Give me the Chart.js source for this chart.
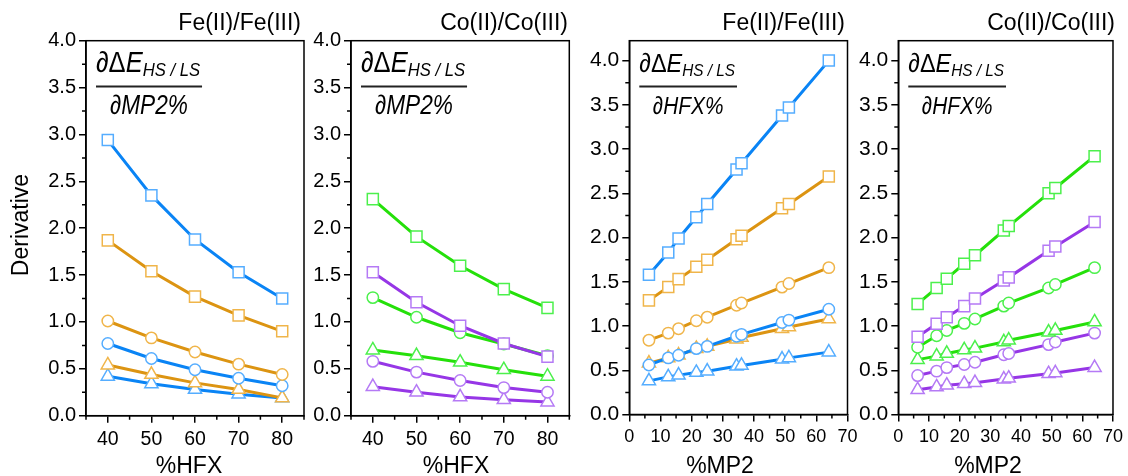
<!DOCTYPE html>
<html>
<head>
<meta charset="utf-8">
<script src="https://cdn.jsdelivr.net/npm/chart.js@4.4.0/dist/chart.umd.min.js"></script>
<style>
  html, body { margin: 0; padding: 0; background: #fff; }
  #wrap { position: relative; width: 1128px; height: 476px; overflow: hidden; }
  #wrap canvas { position: absolute; left: 0; top: 0; }
</style>
</head>
<body>
<div id="wrap">
  <canvas id="chartFeMp2" width="1128" height="476"></canvas>
  <canvas id="chartCoMp2" width="1128" height="476"></canvas>
  <canvas id="chartFeHfx" width="1128" height="476"></canvas>
  <canvas id="chartCoHfx" width="1128" height="476"></canvas>
</div>
<script>
// x values
const hfx = [40, 50, 60, 70, 80];
const mp2 = [6.3, 12.5, 15.8, 21.5, 25, 34.4, 36, 49, 51.2, 64];

// tick labels
const hfxTicks = [40, 50, 60, 70, 80];
const hfxMinor = [35, 45, 55, 65, 75, 85];
const mp2Ticks = [0, 10, 20, 30, 40, 50, 60, 70];
const mp2Minor = [5, 15, 25, 35, 45, 55, 65];
const yTicks = [0, 0.5, 1, 1.5, 2, 2.5, 3, 3.5, 4];
const yMinor = [0.25, 0.75, 1.25, 1.75, 2.25, 2.75, 3.25, 3.75];

// panel 1: Fe, d/dMP2% vs %HFX
const feSqBlue1 = [2.94, 2.35, 1.88, 1.53, 1.25];
const feSqOrange1 = [1.87, 1.54, 1.27, 1.07, 0.90];
const feCiOrange1 = [1.01, 0.83, 0.68, 0.55, 0.44];
const feCiBlue1 = [0.77, 0.61, 0.49, 0.40, 0.32];
const feTrOrange1 = [0.54, 0.44, 0.35, 0.28, 0.19];
const feTrBlue1 = [0.42, 0.34, 0.28, 0.23, 0.19];

// panel 2: Co, d/dMP2% vs %HFX
const coSqGreen1 = [2.31, 1.91, 1.60, 1.35, 1.15];
const coSqPurple1 = [1.53, 1.21, 0.96, 0.77, 0.63];
const coCiGreen1 = [1.26, 1.05, 0.885, 0.765, 0.64];
const coTrGreen1 = [0.70, 0.64, 0.57, 0.49, 0.42];
const coCiPurple1 = [0.58, 0.465, 0.375, 0.30, 0.25];
const coTrPurple1 = [0.31, 0.25, 0.20, 0.17, 0.145];

// panel 3: Fe, d/dHFX% vs %MP2
const feSqBlue2 = [1.58, 1.83, 1.99, 2.23, 2.38, 2.77, 2.84, 3.38, 3.47, 4.00];
const feSqOrange2 = [1.29, 1.44, 1.53, 1.67, 1.75, 1.98, 2.02, 2.33, 2.38, 2.69];
const feCiOrange2 = [0.84, 0.92, 0.97, 1.06, 1.10, 1.235, 1.26, 1.44, 1.48, 1.66];
const feCiBlue2 = [0.56, 0.64, 0.67, 0.745, 0.77, 0.885, 0.905, 1.04, 1.067, 1.19];
const feTrOrange2 = [0.58, 0.64, 0.67, 0.745, 0.77, 0.85, 0.87, 0.97, 0.99, 1.08];
const feTrBlue2 = [0.38, 0.425, 0.445, 0.475, 0.49, 0.545, 0.555, 0.625, 0.64, 0.705];

// panel 4: Co, d/dHFX% vs %MP2
const coSqGreen2 = [1.25, 1.43, 1.535, 1.705, 1.80, 2.08, 2.13, 2.50, 2.56, 2.92];
const coSqPurple2 = [0.88, 1.025, 1.10, 1.225, 1.31, 1.515, 1.55, 1.85, 1.90, 2.175];
const coCiGreen2 = [0.76, 0.89, 0.95, 1.03, 1.08, 1.225, 1.26, 1.43, 1.47, 1.66];
const coTrGreen2 = [0.62, 0.66, 0.69, 0.73, 0.75, 0.82, 0.84, 0.93, 0.95, 1.045];
const coCiPurple2 = [0.44, 0.49, 0.53, 0.565, 0.59, 0.675, 0.69, 0.79, 0.82, 0.92];
const coTrPurple2 = [0.28, 0.31, 0.33, 0.347, 0.36, 0.40, 0.41, 0.46, 0.47, 0.53];

const FONT = '"Liberation Sans", Arial, sans-serif';
const W = 1128, H = 476;
const Y_W = 44, X_H = 34;

// line colour, marker colour
const BLUE = ['#0a84f5', '#55adff'];
const ORANGE = ['#dc9412', '#f0b54a'];
const GREEN = ['#25e00a', '#4cf04c'];
const PURPLE = ['#9636e6', '#b57af5'];

const RADIUS = { rect: 7.8, circle: 5.7, triangle: 7.6 };

function series(xs, ys, col, shape) {
  return {
    data: xs.map((x, i) => ({ x: x, y: ys[i] })),
    borderColor: col[0],
    borderWidth: 3,
    pointStyle: shape,
    pointRadius: RADIUS[shape],
    pointBorderColor: col[1],
    pointBackgroundColor: '#fff',
    pointBorderWidth: 1.5,
    tension: 0
  };
}

// box frame + minor ticks
const frameTicks = {
  id: 'frameTicks',
  afterDraw(chart, args, opts) {
    const { ctx, chartArea: { left, right, top, bottom }, scales: { x, y } } = chart;
    ctx.save();
    ctx.strokeStyle = '#000';
    ctx.lineWidth = 1.5;
    ctx.strokeRect(left, top, right - left, bottom - top);
    ctx.beginPath();
    opts.xMinor.forEach(v => {
      const px = x.getPixelForValue(v);
      ctx.moveTo(px, bottom); ctx.lineTo(px, bottom + 4);
    });
    opts.yMinor.forEach(v => {
      const py = y.getPixelForValue(v);
      ctx.moveTo(left, py); ctx.lineTo(left - 4, py);
    });
    ctx.stroke();
    ctx.restore();
  }
};

// narrow text (the fraction font is condensed)
function narrowText(ctx, text, x, y, sx) {
  ctx.save();
  ctx.translate(x, y);
  ctx.scale(sx, 1);
  ctx.fillText(text, 0, 0);
  ctx.restore();
  return ctx.measureText(text).width * sx;
}

// panel title, axis title and the derivative fraction
const panelText = {
  id: 'panelText',
  afterDraw(chart, args, opts) {
    const { ctx, chartArea: { left } } = chart;
    ctx.save();
    ctx.fillStyle = '#000';
    ctx.textBaseline = 'alphabetic';
    ctx.font = `23px ${FONT}`;
    ctx.textAlign = 'right';
    ctx.fillText(opts.title, opts.titleRight, 30);
    ctx.textAlign = 'center';
    ctx.fillText(opts.xTitle, opts.xTitleX, 473);
    if (opts.yTitle) {
      ctx.save();
      ctx.translate(28, 225);
      ctx.rotate(-Math.PI / 2);
      ctx.fillText(opts.yTitle, 0, 0);
      ctx.restore();
    }
    // fraction
    const s = opts.scale;
    ctx.textAlign = 'left';
    const x0 = left + 10;
    let x = x0;
    const base = 72;
    ctx.font = `italic ${29 * s}px ${FONT}`;
    x += narrowText(ctx, '\u2202', x, base, 0.88);
    ctx.font = `${29 * s}px ${FONT}`;
    x += narrowText(ctx, '\u0394', x, base, 0.88);
    ctx.font = `italic ${29 * s}px ${FONT}`;
    x += narrowText(ctx, 'E', x, base, 0.88);
    ctx.font = `italic ${18.5 * s}px ${FONT}`;
    x += narrowText(ctx, 'HS / LS', x, base + 4, 0.9);
    ctx.strokeStyle = '#222';
    ctx.lineWidth = 2;
    ctx.beginPath();
    ctx.moveTo(x0, 86.5); ctx.lineTo(x + 2, 86.5);
    ctx.stroke();
    ctx.font = `italic ${27 * s}px ${FONT}`;
    const dw = ctx.measureText(opts.den).width * 0.84;
    narrowText(ctx, opts.den, (x0 + x + 2) / 2 - dw / 2, 114, 0.84);
    ctx.restore();
  }
};

function makeConfig(datasets, p) {
  return {
    type: 'line',
    data: { datasets: datasets },
    options: {
      responsive: false,
      animation: false,
      layout: {
        padding: { left: p.l - Y_W, right: W - p.r, top: p.t, bottom: H - p.b - X_H }
      },
      plugins: {
        legend: { display: false },
        tooltip: { enabled: false },
        frameTicks: { xMinor: p.xMinor, yMinor: yMinor },
        panelText: p.text
      },
      scales: {
        x: {
          type: 'linear',
          min: p.xMin,
          max: p.xMax,
          afterBuildTicks: s => { s.ticks = p.xTicks.map(v => ({ value: v })); },
          afterFit: s => { s.height = X_H; },
          grid: { drawOnChartArea: false, tickLength: 7, color: '#000', lineWidth: 1.5 },
          border: { color: '#000', width: 1.5 },
          ticks: { color: '#000', padding: 5, maxRotation: 0, font: { family: FONT, size: p.xFont } }
        },
        y: {
          min: 0,
          max: p.yMax,
          afterBuildTicks: s => { s.ticks = yTicks.map(v => ({ value: v })); },
          afterFit: s => { s.width = Y_W; },
          grid: { drawOnChartArea: false, tickLength: 7, color: '#000', lineWidth: 1.5 },
          border: { color: '#000', width: 1.5 },
          ticks: { color: '#000', padding: 3, font: { family: FONT, size: p.yFont },
            callback: v => v.toFixed(1) }
        }
      }
    },
    plugins: [frameTicks, panelText]
  };
}

// panel 1
new Chart(document.getElementById('chartFeMp2'), makeConfig([
  series(hfx, feSqBlue1, BLUE, 'rect'),
  series(hfx, feSqOrange1, ORANGE, 'rect'),
  series(hfx, feCiOrange1, ORANGE, 'circle'),
  series(hfx, feCiBlue1, BLUE, 'circle'),
  series(hfx, feTrOrange1, ORANGE, 'triangle'),
  series(hfx, feTrBlue1, BLUE, 'triangle')
], {
  l: 86, r: 304, t: 40.7, b: 415.7, xMin: 35, xMax: 85, yMax: 4,
  xTicks: hfxTicks, xMinor: hfxMinor, xFont: 19.5, yFont: 20,
  text: { title: 'Fe(II)/Fe(III)', titleRight: 301, xTitle: '%HFX', xTitleX: 189,
    yTitle: 'Derivative', den: '\u2202MP2%', scale: 1 }
}));

// panel 2
new Chart(document.getElementById('chartCoMp2'), makeConfig([
  series(hfx, coSqGreen1, GREEN, 'rect'),
  series(hfx, coSqPurple1, PURPLE, 'rect'),
  series(hfx, coCiGreen1, GREEN, 'circle'),
  series(hfx, coTrGreen1, GREEN, 'triangle'),
  series(hfx, coCiPurple1, PURPLE, 'circle'),
  series(hfx, coTrPurple1, PURPLE, 'triangle')
], {
  l: 351, r: 569.3, t: 40.7, b: 415.7, xMin: 35, xMax: 85, yMax: 4,
  xTicks: hfxTicks, xMinor: hfxMinor, xFont: 19.5, yFont: 20,
  text: { title: 'Co(II)/Co(III)', titleRight: 568, xTitle: '%HFX', xTitleX: 456,
    den: '\u2202MP2%', scale: 1 }
}));

// panel 3
new Chart(document.getElementById('chartFeHfx'), makeConfig([
  series(mp2, feSqBlue2, BLUE, 'rect'),
  series(mp2, feSqOrange2, ORANGE, 'rect'),
  series(mp2, feCiOrange2, ORANGE, 'circle'),
  series(mp2, feCiBlue2, BLUE, 'circle'),
  series(mp2, feTrOrange2, ORANGE, 'triangle'),
  series(mp2, feTrBlue2, BLUE, 'triangle')
], {
  l: 629.3, r: 847.5, t: 40.7, b: 414.5, xMin: 0, xMax: 70, yMax: 4.225,
  xTicks: mp2Ticks, xMinor: mp2Minor, xFont: 18, yFont: 21,
  text: { title: 'Fe(II)/Fe(III)', titleRight: 845, xTitle: '%MP2', xTitleX: 720,
    den: '\u2202HFX%', scale: 0.92 }
}));

// panel 4
new Chart(document.getElementById('chartCoHfx'), makeConfig([
  series(mp2, coSqGreen2, GREEN, 'rect'),
  series(mp2, coSqPurple2, PURPLE, 'rect'),
  series(mp2, coCiGreen2, GREEN, 'circle'),
  series(mp2, coTrGreen2, GREEN, 'triangle'),
  series(mp2, coCiPurple2, PURPLE, 'circle'),
  series(mp2, coTrPurple2, PURPLE, 'triangle')
], {
  l: 898.3, r: 1116.5, t: 40.7, b: 414.5, xMin: 0, xMax: 70, yMax: 4.225,
  xTicks: mp2Ticks, xMinor: mp2Minor, xFont: 18, yFont: 21,
  text: { title: 'Co(II)/Co(III)', titleRight: 1115, xTitle: '%MP2', xTitleX: 988,
    den: '\u2202HFX%', scale: 0.92 }
}));
</script>
</body>
</html>
